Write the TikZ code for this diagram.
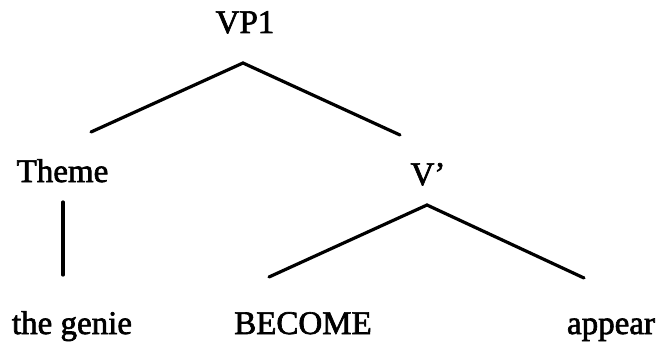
\documentclass[tikz,border=0pt]{standalone}
\usepackage{fontspec}
\setmainfont[FakeBold=2]{Liberation Serif}
\begin{document}
\begin{tikzpicture}[x=1pt,y=-1pt,
  lbl/.style={anchor=base,inner sep=0pt,font=\fontsize{33}{40}\selectfont},
  branch/.style={line width=3.2pt,line cap=round,black}]
\useasboundingbox (0,0) rectangle (660,345);
\node[lbl] (vp1) at (245,33) {VP1};
\node[lbl] (theme) at (62.5,182) {Theme};
\node[lbl] (vbar) at (428,185) {V’};
\node[lbl] (genie) at (72,334) {the genie};
\node[lbl] (become) at (303,334) {BECOME};
\node[lbl] (appear) at (611,334) {appear};
\coordinate (vpA) at (243,63);
\coordinate (vpL) at (91,132);
\coordinate (vpR) at (400,135);
\coordinate (thT) at (63,202);
\coordinate (thB) at (63,275);
\coordinate (vbA) at (427,205);
\coordinate (vbL) at (269,277);
\coordinate (vbR) at (584,278);
\draw[branch] (vpL) -- (vpA) -- (vpR);
\draw[branch] (thT) -- (thB);
\draw[branch] (vbL) -- (vbA) -- (vbR);
\end{tikzpicture}
\end{document}
